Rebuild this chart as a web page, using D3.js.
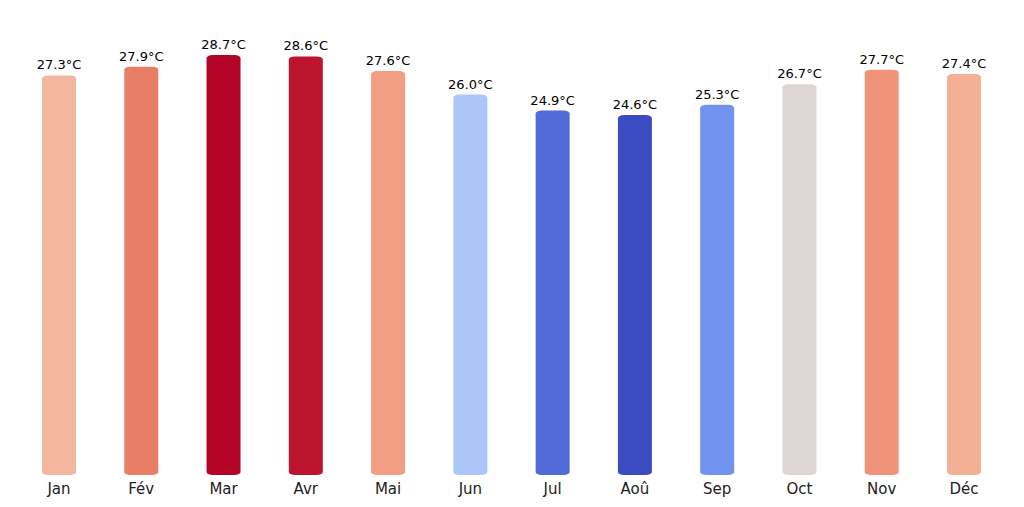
<!DOCTYPE html><html><head><meta charset="utf-8"><script src="https://cdn.jsdelivr.net/npm/d3@7"></script>
<style>body{margin:0;background:#fff}text{font-family:"DejaVu Sans",sans-serif}</style></head><body><svg id="c" width="1024" height="507"></svg>
<script>
const months=["Jan","Fév","Mar","Avr","Mai","Jun","Jul","Aoû","Sep","Oct","Nov","Déc"];
const temps=[27.3,27.9,28.7,28.6,27.6,26.0,24.9,24.6,25.3,26.7,27.7,27.4];
const coolwarm=["#3b4cc0","#6282ea","#8db0fe","#b8d0f9","#dddcdc","#f5c4ac","#f49a7b","#dc5d4a","#b40426"];
const svg=d3.select("#c");
const x=d3.scalePoint().domain(months).range([59,964]);
const y=d3.scaleLinear().domain([0,28.7]).range([475,55]);
const cs=d3.scaleLinear().domain([d3.min(temps),d3.max(temps)]).range([0,1]);
const cmap=d3.interpolateRgbBasis(coolwarm);
const w=34;
const g=svg.selectAll("g.b").data(months).join("g");
g.append("rect").attr("x",d=>x(d)-w/2).attr("width",w)
 .attr("y",(d,i)=>y(temps[i])).attr("height",(d,i)=>y(0)-y(temps[i]))
 .attr("rx",6).attr("ry",3).attr("fill",(d,i)=>cmap(cs(temps[i])));
g.append("text").attr("x",d=>x(d)).attr("y",(d,i)=>y(temps[i])-6).attr("text-anchor","middle")
 .attr("font-size",13).text((d,i)=>temps[i].toFixed(1)+"°C");
g.append("text").attr("x",d=>x(d)).attr("y",494).attr("text-anchor","middle")
 .attr("font-size",15).attr("fill","#222").text(d=>d);
</script></body></html>
